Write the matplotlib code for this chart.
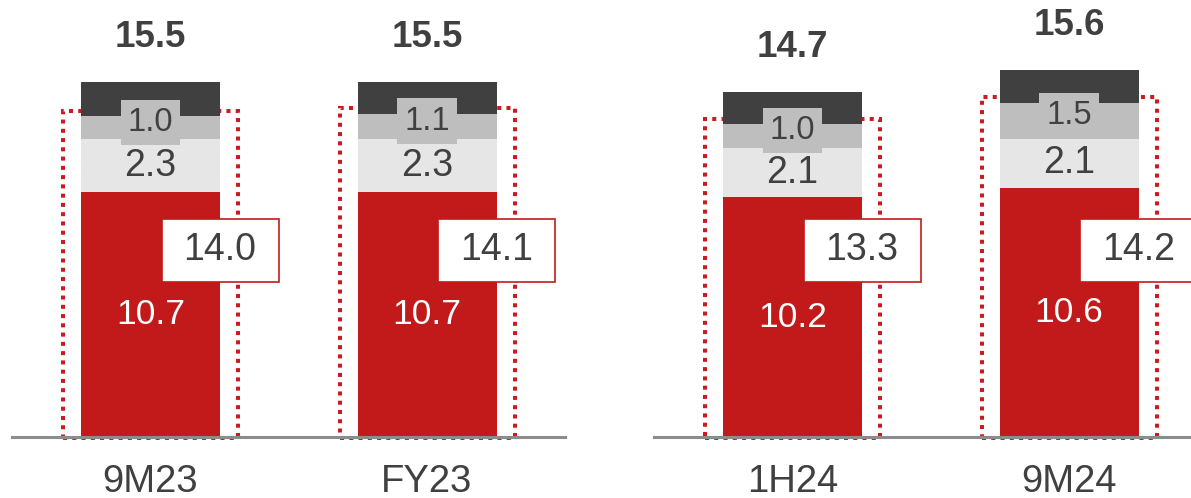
import matplotlib.pyplot as plt
from matplotlib.patches import Rectangle
import matplotlib.transforms as mtransforms

plt.rcParams["font.family"] = ["Liberation Sans", "DejaVu Sans"]

# data (two separate panels)
cats_a = ["9M23", "FY23"]
red_a = [10.7, 10.7]
light_a = [2.3, 2.3]
mid_a = [1.0, 1.1]
sub_a = [14.0, 14.1]
total_a = [15.5, 15.5]

cats_b = ["1H24", "9M24"]
red_b = [10.2, 10.6]
light_b = [2.1, 2.1]
mid_b = [1.0, 1.5]
sub_b = [13.3, 14.2]
total_b = [14.7, 15.6]

RED = "#C21A1A"
LIGHT = "#E6E6E6"
MID = "#BEBEBE"
DARK = "#404040"
TXT = "#404040"
DOT = "#CC1A22"

W, H = 1191, 498
fig = plt.figure(figsize=(W / 100, H / 100), dpi=100)

BASE = 61  # baseline, px from bottom
SPACING = 276.5  # px between bars
BAR_PX = 139


def panel(left_px, width_px, first_center_px, px_per_unit, cats, red, light, mid, sub, total):
    ax = fig.add_axes([left_px / W, BASE / H, width_px / W, (H - BASE) / H])
    ax.set_xlim((left_px - first_center_px) / SPACING,
                (left_px + width_px - first_center_px) / SPACING)
    ax.set_ylim(0, (H - BASE) / px_per_unit)
    ax.axis("off")

    x = list(range(len(cats)))
    bw = BAR_PX / SPACING
    dark = [t - s for t, s in zip(total, sub)]

    # dotted outline around the first three segments
    box_w = 175 / SPACING
    for xi, s in zip(x, sub):
        ax.add_patch(Rectangle((xi - box_w / 2, -0.05), box_w, s + 0.3, fill=False,
                               edgecolor=DOT, linestyle=(0, (1.0, 1.3)), linewidth=2.9,
                               zorder=1, clip_on=False))

    ax.bar(x, red, bw, color=RED, zorder=2)
    ax.bar(x, light, bw, bottom=red, color=LIGHT, zorder=2)
    b2 = [r + l for r, l in zip(red, light)]
    ax.bar(x, mid, bw, bottom=b2, color=MID, zorder=2)
    ax.bar(x, dark, bw, bottom=sub, color=DARK, zorder=2)

    ax.plot([-0.5, 1.5], [0, 0], color="#8C8C8C", lw=2.2, zorder=3, clip_on=False)

    trans = mtransforms.blended_transform_factory(ax.transData, ax.transAxes)
    for i, xi in enumerate(x):
        ax.text(xi, red[i] / 2, f"{red[i]:.1f}", ha="center", va="center",
                color="white", fontsize=25.5, zorder=4)
        ax.text(xi, red[i] + light[i] / 2, f"{light[i]:.1f}", ha="center", va="center",
                color=TXT, fontsize=27, zorder=4)
        ax.annotate(f"{mid[i]:.1f}", (xi, b2[i] + mid[i] / 2), xytext=(0, 4),
                    textcoords="offset points", ha="center", va="center",
                    color=TXT, fontsize=23.5, zorder=4,
                    bbox=dict(boxstyle="square,pad=0.22", facecolor=MID, edgecolor="none"))
        ax.annotate(f"{total[i]:.1f}", (xi, total[i]), xytext=(0, 32),
                    textcoords="offset points", ha="center", va="center",
                    color=TXT, fontsize=26.5, fontweight="bold")
        # subtotal box at right edge of bar
        bx = xi + bw / 2
        box_wd = 117 / SPACING
        box_h = 63 / (H - BASE)
        yc = (437 - 250.5) / (H - BASE)
        ax.add_patch(Rectangle((bx - box_wd / 2, yc - box_h / 2), box_wd, box_h,
                               transform=trans, facecolor="white", edgecolor=RED,
                               linewidth=1.2, zorder=5, clip_on=False))
        ax.text(bx, yc, f"{sub[i]:.1f}", transform=trans, ha="center", va="center",
                color=TXT, fontsize=27, zorder=6)
        ax.text(xi, -55 / px_per_unit, cats[i], ha="center", va="baseline",
                color=TXT, fontsize=27.5, clip_on=False)
    return ax


panel(0, 600, 150.5, 22.9, cats_a, red_a, light_a, mid_a, sub_a, total_a)
panel(600, 591, 792.5, 23.5, cats_b, red_b, light_b, mid_b, sub_b, total_b)

fig.savefig("out.png", dpi=100)
